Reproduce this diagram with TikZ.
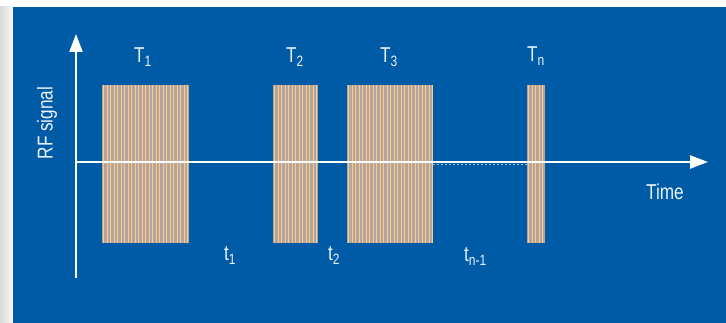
\documentclass[tikz,border=0pt]{standalone}
\usepackage{fontspec}
\newfontfamily\lblfont{Liberation Sans}[FakeStretch=0.8]
\definecolor{bgblue}{RGB}{0,91,166}
\definecolor{txtwhite}{RGB}{236,242,250}
\definecolor{burstfill}{RGB}{190,170,162}
\definecolor{burstline}{RGB}{252,205,128}
\usetikzlibrary{arrows.meta,positioning}
\newcommand{\lowsub}[1]{\raisebox{-4pt}{\fontsize{15}{15}\selectfont #1}}

\begin{document}
\begin{tikzpicture}[x=1pt,y=-1pt,
  lbl/.style={text=txtwhite, font=\lblfont\fontsize{21.5}{24}\selectfont, inner sep=0pt, anchor=base west},
  burstbox/.style={fill=burstfill, fill opacity=0.95, inner sep=0pt, anchor=north west, minimum height=158pt},
  wave/.style={draw=burstline, line width=1pt},
  axis/.style={draw=white, line width=2.4pt, -{Triangle[length=18pt,width=13pt]}}
]
  %% page: photo edge and blue panel
  \useasboundingbox (0,0) rectangle (726,323);
  \fill[white] (0,0) rectangle (726,323);
  \shade[left color=gray!30, right color=gray!5] (0,7) rectangle (13,323);
  \fill[bgblue] (13,7) rectangle (726,323);

  %% axes
  \coordinate (origin) at (76,162);
  \coordinate (ybot) at (76,278);
  \coordinate (ytip) at (76,34);
  \coordinate (xtip) at (708,162);

  %% bursts
  \node[burstbox, minimum width=87pt] (b1) at (102,85) {};
  \foreach \x in {103.5,107,...,188} \draw[wave] (\x,85) -- (\x,243);
  \node[burstbox, minimum width=45pt] (b2) at (273,85) {};
  \foreach \x in {274.5,278,...,318} \draw[wave] (\x,85) -- (\x,243);
  \node[burstbox, minimum width=86pt] (b3) at (347,85) {};
  \foreach \x in {348.5,352,...,433} \draw[wave] (\x,85) -- (\x,243);
  \node[burstbox, minimum width=18pt] (bn) at (527,85) {};
  \foreach \x in {528.5,532,...,545} \draw[wave] (\x,85) -- (\x,243);

  \draw[axis] (ybot) -- (ytip);
  \draw[axis] (origin) -- (xtip);
  \draw[white, opacity=0.6, line width=1pt, dash pattern=on 2pt off 2pt] (b3.east |- 0,164.5) -- (bn.west |- 0,164.5);

  %% labels
  \node[lbl] (l1) at (134,63) {T\lowsub{1}};
  \node[lbl] (l2) at (286,63) {T\lowsub{2}};
  \node[lbl] (l3) at (380,63) {T\lowsub{3}};
  \node[lbl] (ln) at (527,62) {T\lowsub{n}};
  \node[lbl] (g1) at (224,261) {t\lowsub{1}};
  \node[lbl] (g2) at (328,261) {t\lowsub{2}};
  \node[lbl] (gn) at (464,262) {t\lowsub{n-1}};
  \node[lbl] (tm) at (646,200) {Time};
  \node[lbl, anchor=center, rotate=90] (rf) at (47,123) {RF signal};
\end{tikzpicture}
\end{document}
